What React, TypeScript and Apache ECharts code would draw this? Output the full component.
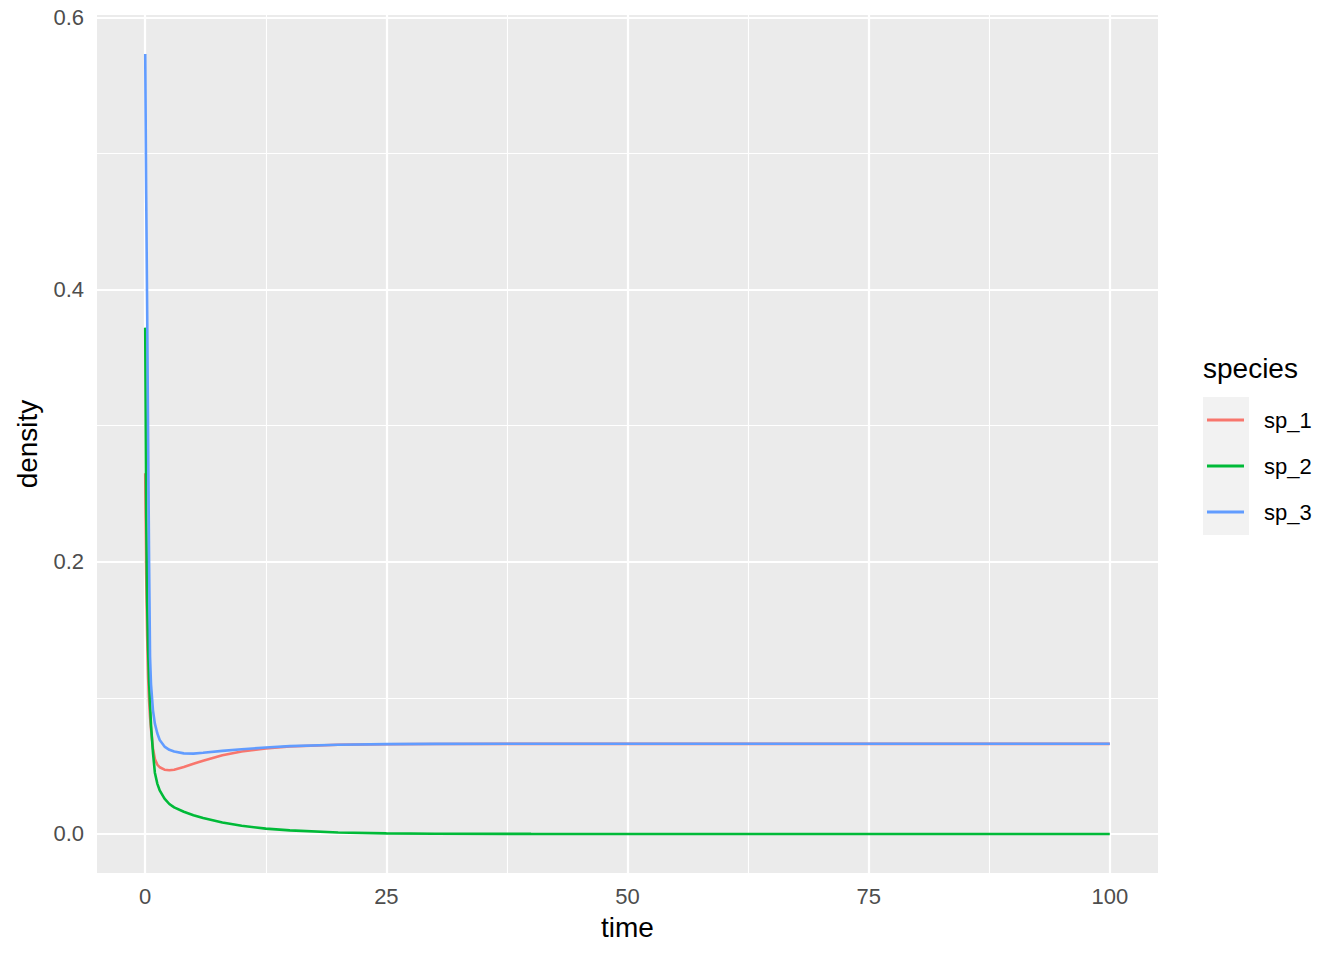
import React, { useEffect, useRef } from "react";
import * as echarts from "echarts";

const times = [0, 0.1, 0.2, 0.3, 0.4, 0.5, 0.6, 0.8, 1, 1.25, 1.5, 2, 2.5, 3, 4, 5, 6, 8, 10, 12.5, 15, 20, 25, 30, 40, 50, 60, 70, 80, 90, 100];
const sp1 = [0.265, 0.19, 0.145, 0.115, 0.098, 0.086, 0.077, 0.063, 0.055, 0.051, 0.049, 0.0472, 0.0468, 0.0472, 0.0492, 0.0515, 0.0538, 0.0578, 0.0606, 0.0628, 0.0642, 0.0655, 0.0659, 0.0661, 0.0662, 0.0662, 0.0662, 0.0662, 0.0662, 0.0662, 0.0662];
const sp2 = [0.372, 0.235, 0.17, 0.135, 0.112, 0.095, 0.08, 0.06, 0.045, 0.037, 0.032, 0.026, 0.022, 0.0195, 0.0163, 0.0138, 0.0117, 0.0084, 0.006, 0.0039, 0.0026, 0.0011, 0.0004, 0.00015, 0.00002, 0, 0, 0, 0, 0, 0];
const sp3 = [0.573, 0.47, 0.385, 0.29, 0.2, 0.13, 0.11, 0.091, 0.081, 0.074, 0.069, 0.0642, 0.0618, 0.0605, 0.0592, 0.059, 0.0596, 0.061, 0.0622, 0.0635, 0.0645, 0.0655, 0.066, 0.0662, 0.0663, 0.0663, 0.0663, 0.0663, 0.0663, 0.0663, 0.0663];

const seriesNames = ["sp_1", "sp_2", "sp_3"];
const seriesColors = ["#F8766D", "#00BA38", "#619CFF"];
const xTicks = [0, 25, 50, 75, 100];
const xMinor = [12.5, 37.5, 62.5, 87.5];
const yTicks = [0, 0.2, 0.4, 0.6];
const yMinor = [0.1, 0.3, 0.5];

const FONT = "Liberation Sans, Arial, Helvetica, sans-serif";

export default function App() {
  const ref = useRef<HTMLDivElement>(null);
  useEffect(() => {
    document.body.style.margin = "0";
    if (!ref.current) return;
    const chart = echarts.init(ref.current, undefined, { renderer: "svg" });
    const allSeries = [sp1, sp2, sp3];
    const gridLines = [
      ...xTicks.map((v) => ({ xAxis: v, lineStyle: { width: 2.2 } })),
      ...xMinor.map((v) => ({ xAxis: v, lineStyle: { width: 1.1 } })),
      ...yTicks.map((v) => ({ yAxis: v, lineStyle: { width: 2.2 } })),
      ...yMinor.map((v) => ({ yAxis: v, lineStyle: { width: 1.1 } })),
    ];
    chart.setOption({
      animation: false,
      textStyle: { fontFamily: FONT },
      grid: {
        left: 97,
        right: 186,
        top: 15,
        bottom: 87,
        show: true,
        backgroundColor: "#EBEBEB",
        borderWidth: 0,
        z: 0,
      },
      xAxis: {
        type: "value",
        min: -5,
        max: 105,
        name: "time",
        nameLocation: "middle",
        nameGap: 40,
        nameTextStyle: { fontSize: 28, color: "#000", fontFamily: FONT },
        axisLine: { show: false },
        splitLine: { show: false },
        axisTick: {
          show: true,
          customValues: xTicks,
          length: 7,
          lineStyle: { color: "#333333", width: 2 },
        },
        axisLabel: {
          customValues: xTicks,
          fontSize: 22,
          color: "#4D4D4D",
          margin: 12,
          fontFamily: FONT,
        },
      },
      yAxis: {
        type: "value",
        min: -0.0287,
        max: 0.6017,
        name: "density",
        nameLocation: "middle",
        nameGap: 56,
        nameRotate: 90,
        nameTextStyle: { fontSize: 28, color: "#000", fontFamily: FONT },
        axisLine: { show: false },
        splitLine: { show: false },
        axisTick: {
          show: true,
          customValues: yTicks,
          length: 7,
          lineStyle: { color: "#333333", width: 2 },
        },
        axisLabel: {
          customValues: yTicks,
          fontSize: 22,
          color: "#4D4D4D",
          margin: 13,
          fontFamily: FONT,
          formatter: (v: number) => v.toFixed(1),
        },
      },
      legend: {
        data: seriesNames,
        orient: "vertical",
        left: 1207,
        top: 397,
        padding: 0,
        itemGap: 0,
        icon: "rect",
        itemWidth: 37,
        itemHeight: 3,
        z: 10,
        selectedMode: false,
        textStyle: {
          fontSize: 22,
          color: "#000",
          lineHeight: 46,
          padding: [0, 0, 0, 15],
          fontFamily: FONT,
        },
      },
      graphic: [
        {
          type: "rect",
          left: 1203,
          top: 397,
          z: 0,
          shape: { width: 46, height: 138 },
          style: { fill: "#F2F2F2" },
        },
        {
          type: "text",
          left: 1203,
          top: 354,
          z: 0,
          style: { text: "species", fontSize: 28, fill: "#000", fontFamily: FONT },
        },
      ],
      series: [
        {
          type: "line",
          name: "grid",
          data: [],
          z: 1,
          silent: true,
          markLine: {
            z: 1,
            silent: true,
            symbol: ["none", "none"],
            label: { show: false },
            emphasis: { disabled: true },
            lineStyle: { color: "#FFFFFF", type: "solid" },
            data: gridLines,
          },
        },
        ...seriesNames.map((name, i) => ({
          type: "line",
          name,
          z: 3 + i,
          showSymbol: false,
          symbol: "none",
          color: seriesColors[i],
          lineStyle: { width: 2.6, color: seriesColors[i] },
          data: times.map((t, j) => [t, allSeries[i][j]]),
        })),
      ],
    });
    return () => chart.dispose();
  }, []);
  return <div ref={ref} style={{ width: 1344, height: 960 }} />;
}
